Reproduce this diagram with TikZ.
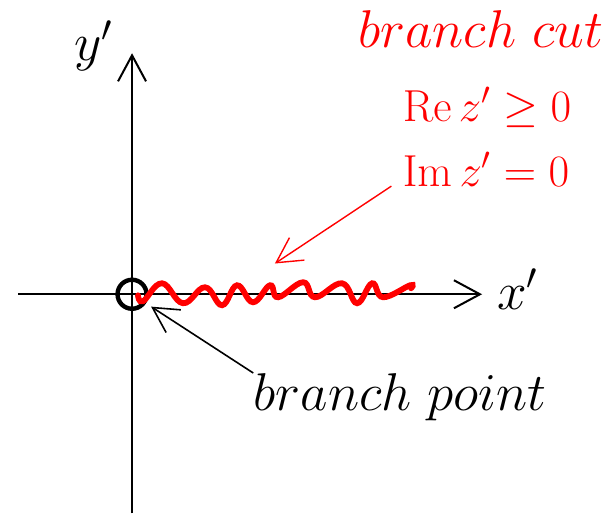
\RequirePackage{fix-cm}
\documentclass[tikz,border=0pt]{standalone}
\usepackage{amsmath,amssymb}
\usepackage{xcolor}
\usetikzlibrary{arrows.meta}

\begin{document}
\begin{tikzpicture}[
    axis/.style={-{Straight Barb[length=13pt,width=14pt]}, line width=1pt},
    arrow/.style={-{Straight Barb[length=12.5pt,width=13.5pt]}},
    lbl/.style={inner sep=0pt, font=\fontsize{26.6}{32}\selectfont},
    cutlbl/.style={inner sep=0pt, font=\fontsize{22.4}{27}\selectfont, text=red}
]
\useasboundingbox (-2.32,-3.85) rectangle (8.31,5.17);
% axes
\coordinate (xstart) at (-2.0,0);
\coordinate (xend) at (6.15,0);
\coordinate (ystart) at (0,-3.85);
\coordinate (yend) at (0,4.235);
\draw[axis] (xstart) -- (xend);
\draw[axis] (ystart) -- (yend);
\node[lbl, anchor=base west] (ylab) at (-1.02,4.11) {$y'$};
\node[lbl, anchor=base west] (xlab) at (6.41,-0.26) {$x'$};
% branch point and cut
\node[circle, draw, line width=2.2pt, minimum size=14.5pt, inner sep=0pt] (bpt) at (0,0) {};
\draw[red, line width=2.9pt, line cap=round] plot[smooth, tension=0.7] coordinates {
    (0.105,-0.018) (0.193,-0.123) (0.527,0.193) (0.896,-0.158) (1.283,0.123)
    (1.582,-0.193) (1.845,0.158) (2.126,-0.141) (2.425,0.158) (2.566,-0.053)
    (3.005,0.211) (3.216,-0.053) (3.690,0.193) (3.954,-0.158) (4.218,0.193)
    (4.411,-0.053) (4.885,0.158) (4.903,0.105)};
\coordinate (cuttip) at (2.51,0.54);
% labels
\node[lbl, text=red, anchor=base west] (cutlab) at (3.97,4.34) {$branch\ cut$};
\node[cutlbl, anchor=base west] (rez) at (4.75,3.04) {$\operatorname{Re} z' \geq 0$};
\node[cutlbl, anchor=base west] (imz) at (4.75,1.90) {$\operatorname{Im} z' = 0$};
\node[lbl, anchor=base west] (bplab) at (2.13,-2.04) {$branch\ point$};
\draw[arrow, red, line width=0.7pt] ([xshift=-5.5pt]imz.base west) -- (cuttip);
\draw[arrow, line width=0.8pt, shorten >=3pt] (bplab.north west) -- (bpt);
\end{tikzpicture}
\end{document}
